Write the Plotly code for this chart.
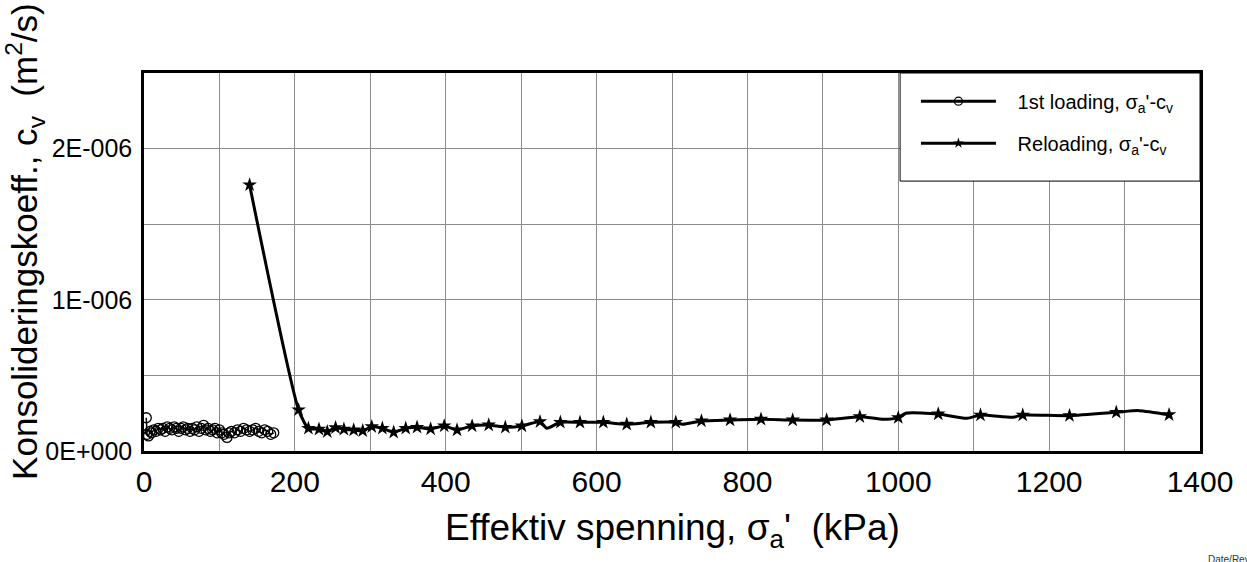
import plotly.graph_objects as go

# First loading: effective stress (kPa) and consolidation coefficient (m2/s)
load1_x = [3, 4, 6, 8, 10, 13, 16, 19, 22, 25, 28, 31, 34, 37, 40, 43, 46, 49,
           52, 55, 58, 61, 64, 67, 70, 73, 76, 79, 82, 85, 88, 91, 94, 97, 100,
           103, 106, 110, 113, 116, 120, 124, 128, 132, 136, 140, 144, 148, 152,
           156, 160, 164, 168, 172]
load1_y = [2.2e-7, 1.1e-7, 1.0e-7, 1.3e-7, 1.2e-7, 1.4e-7, 1.3e-7, 1.5e-7, 1.4e-7,
           1.5e-7, 1.3e-7, 1.6e-7, 1.5e-7, 1.4e-7, 1.6e-7, 1.5e-7, 1.3e-7, 1.5e-7,
           1.6e-7, 1.4e-7, 1.5e-7, 1.3e-7, 1.5e-7, 1.4e-7, 1.6e-7, 1.3e-7, 1.5e-7,
           1.7e-7, 1.4e-7, 1.5e-7, 1.3e-7, 1.4e-7, 1.5e-7, 1.2e-7, 1.4e-7, 1.2e-7,
           1.1e-7, 0.9e-7, 1.2e-7, 1.3e-7, 1.2e-7, 1.4e-7, 1.3e-7, 1.5e-7, 1.4e-7,
           1.3e-7, 1.4e-7, 1.5e-7, 1.3e-7, 1.2e-7, 1.4e-7, 1.3e-7, 1.1e-7, 1.2e-7]

# Reloading: marked readings
reload_x = [140, 205, 218, 232, 243, 254, 265, 278, 290, 302, 316, 331, 347, 362,
            380, 398, 415, 435, 457, 479, 501, 525, 552, 578, 609, 640, 672, 705,
            739, 777, 818, 860, 905, 949, 1000, 1053, 1109, 1165, 1227, 1289, 1359]
reload_y = [1.76e-6, 2.72e-7, 1.50e-7, 1.44e-7, 1.28e-7, 1.54e-7, 1.44e-7, 1.39e-7,
            1.34e-7, 1.61e-7, 1.50e-7, 1.24e-7, 1.50e-7, 1.57e-7, 1.46e-7, 1.66e-7,
            1.39e-7, 1.66e-7, 1.72e-7, 1.57e-7, 1.66e-7, 1.94e-7, 1.90e-7, 1.90e-7,
            1.90e-7, 1.77e-7, 1.90e-7, 1.90e-7, 1.99e-7, 2.05e-7, 2.10e-7, 2.05e-7,
            2.05e-7, 2.27e-7, 2.21e-7, 2.45e-7, 2.38e-7, 2.38e-7, 2.34e-7, 2.56e-7,
            2.40e-7]
# Reloading: intermediate readings between the marked ones
reload_mid_x = [534, 714, 980, 1010, 1091, 1152, 1319]
reload_mid_y = [1.50e-7, 1.77e-7, 2.10e-7, 2.50e-7, 2.16e-7, 2.23e-7, 2.67e-7]

x_tick_vals = [0, 200, 400, 600, 800, 1000, 1200, 1400]
y_tick_vals = [0, 0.5e-6, 1.0e-6, 1.5e-6, 2.0e-6, 2.5e-6]
y_tick_text = ["0E+000", "", "1E-006", "", "2E-006", ""]

reload_all = sorted(zip(reload_x + reload_mid_x, reload_y + reload_mid_y))
line_x = [p[0] for p in reload_all]
line_y = [p[1] for p in reload_all]

FONT = "Liberation Sans, Arial, sans-serif"
GAP = "\u00a0\u00a0\u00a0"

fig = go.Figure()

fig.add_trace(go.Scatter(
    x=load1_x, y=load1_y, mode="lines+markers", showlegend=False,
    line=dict(color="black", width=1.5),
    marker=dict(symbol="circle-open", size=10, color="black", line=dict(width=1.3)),
))
# legend entry for the first loading curve
fig.add_trace(go.Scatter(
    x=[None], y=[None], mode="lines+markers",
    name=GAP + "1st loading, σ<sub>a</sub>'-c<sub>v</sub>", legendgroup="a",
    line=dict(color="black", width=3),
    marker=dict(symbol="circle-open", size=8, color="black", line=dict(width=1.3)),
))

fig.add_trace(go.Scatter(
    x=line_x, y=line_y, mode="lines", showlegend=False, hoverinfo="skip",
    line=dict(color="black", width=3, shape="spline", smoothing=0.6),
))
fig.add_trace(go.Scatter(
    x=reload_x, y=reload_y, mode="markers", showlegend=False,
    marker=dict(symbol="star", size=11, color="black"),
))
# legend entry for the reloading curve
fig.add_trace(go.Scatter(
    x=[None], y=[None], mode="lines+markers",
    name=GAP + "Reloading, σ<sub>a</sub>'-c<sub>v</sub>", legendgroup="b",
    line=dict(color="black", width=3),
    marker=dict(symbol="star", size=8, color="black"),
))

# legend frame
fig.add_shape(type="rect", xref="paper", yref="paper",
              x0=0.716, x1=1.0, y0=0.714, y1=1.0,
              fillcolor="white", line=dict(color="black", width=1), layer="above")

fig.add_annotation(text="Konsolideringskoeff., c<sub>v</sub>  (m<sup>2</sup>/s)",
                   xref="paper", yref="paper", x=-0.113, y=0.555,
                   textangle=-90, showarrow=False, xanchor="center", yanchor="middle",
                   font=dict(family=FONT, size=35, color="black"))
fig.add_annotation(text="Effektiv spenning, σ<sub>a</sub>'  (kPa)",
                   xref="paper", yref="paper", x=0.5, y=-0.21,
                   showarrow=False, xanchor="center", yanchor="middle",
                   font=dict(family=FONT, size=37, color="black"))
fig.add_annotation(text="Date/Rev", xref="paper", yref="paper",
                   x=1.0057, y=-0.268, xanchor="left", yanchor="top",
                   showarrow=False, font=dict(family=FONT, size=10, color="#333"))

fig.update_layout(
    width=1247, height=562,
    margin=dict(l=144, r=47, t=73, b=111),
    paper_bgcolor="white", plot_bgcolor="white",
    font=dict(family=FONT, color="black"),
    showlegend=True,
    legend=dict(x=0.731, y=0.977, xanchor="left", yanchor="top",
                bgcolor="rgba(0,0,0,0)", borderwidth=0,
                font=dict(family=FONT, size=20, color="black"),
                itemwidth=75, tracegroupgap=13),
    xaxis=dict(range=[0, 1400], tickvals=x_tick_vals,
               showline=True, linecolor="black", linewidth=2.5, mirror=True,
               showgrid=True, gridcolor="#8c8c8c", gridwidth=1,
               minor=dict(dtick=100, showgrid=True, gridcolor="#8c8c8c", gridwidth=1),
               ticks="", zeroline=False, ticklabelstandoff=2,
               tickfont=dict(family=FONT, size=30, color="black")),
    yaxis=dict(range=[0, 2.5e-6], tickvals=y_tick_vals, ticktext=y_tick_text,
               showline=True, linecolor="black", linewidth=2.5, mirror=True,
               showgrid=True, gridcolor="#8c8c8c", gridwidth=1,
               ticks="", zeroline=False, ticklabelstandoff=4,
               tickfont=dict(family=FONT, size=25, color="black")),
)

fig.write_html("out.html")
